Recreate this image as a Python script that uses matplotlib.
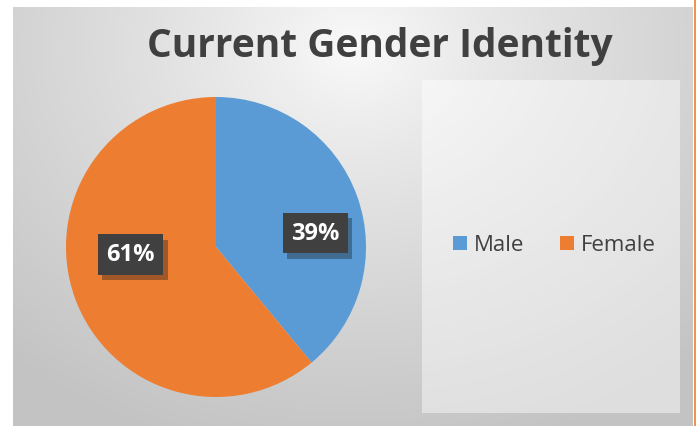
import numpy as np
import matplotlib
matplotlib.use("Agg")
import matplotlib.pyplot as plt
from matplotlib.patches import Rectangle
import matplotlib.patheffects as pe

title = "Current Gender Identity"
categories = ["Male", "Female"]
shares = [39, 61]
colors = ["#5B9BD5", "#ED7D31"]

plt.rcParams['font.family'] = ['Open Sans', 'DejaVu Sans']

W, H = 696, 427
fig = plt.figure(figsize=(W / 100, H / 100), dpi=100)
fig.patch.set_facecolor("white")

# chart area with radial gray gradient
bg = fig.add_axes([13 / W, 0, 680 / W, 419 / H])
bg.set_axis_off()
yy, xx = np.mgrid[0:419, 0:680]
d = np.sqrt(((xx - 340) / 520.0) ** 2 + ((yy - 40) / 420.0) ** 2)
d = np.clip(d, 0, 1)
g = 0.985 - 0.22 * d ** 0.8
bg.imshow(np.dstack([g, g, g]), extent=[0, 680, 419, 0], aspect="auto")
bg.set_xlim(0, 680)
bg.set_ylim(419, 0)
# legend panel
bg.add_patch(Rectangle((409, 73), 258, 333, facecolor="white", alpha=0.45,
                       edgecolor="none"))
fig.add_artist(plt.Line2D([694.5 / W, 694.5 / W], [0, 1], color="#ED7D31", lw=1.2))

fig.text(0.545, 0.89, title, ha="center", va="center", fontsize=28,
         fontweight="bold", color="#404040")

# pie
r_px = 150
cx, cy = 216, 248
ax = fig.add_axes([(cx - r_px) / W, (H - cy - r_px) / H, 2 * r_px / W, 2 * r_px / H])
wedges, _ = ax.pie(shares, colors=colors, startangle=90, counterclock=False,
                   radius=1, wedgeprops=dict(linewidth=0))
ax.set_xlim(-1, 1)
ax.set_ylim(-1, 1)
ax.set_aspect("equal")

label_pos = [(8, 0.67), (185, 0.57)]  # (angle deg, radius) of the label boxes
for v, (ang, rr) in zip(shares, label_pos):
    x = rr * np.cos(np.radians(ang))
    y = rr * np.sin(np.radians(ang))
    t = ax.text(x, y, f"{v}%", ha="center", va="center", fontsize=17,
                fontweight="bold", color="white",
                bbox=dict(boxstyle="square,pad=0.35", facecolor="#404040",
                          edgecolor="none"))
    t.get_bbox_patch().set_path_effects(
        [pe.SimplePatchShadow(offset=(3, -4), alpha=0.35), pe.Normal()])

leg = fig.legend(wedges, categories, loc="center", bbox_to_anchor=(0.797, 0.424),
                 ncol=2, frameon=False, fontsize=16, handlelength=0.6,
                 handleheight=0.6, columnspacing=1.6, handletextpad=0.35,
                 labelcolor="#404040")

fig.savefig("out.png", dpi=100)
